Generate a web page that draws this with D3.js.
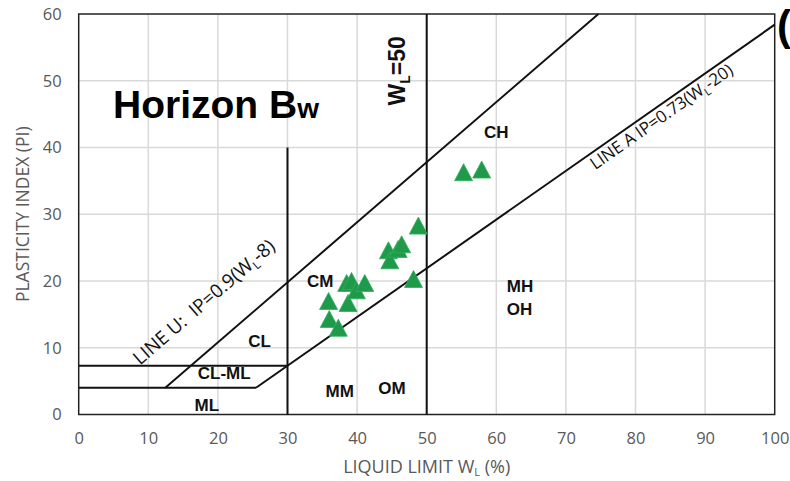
<!DOCTYPE html>
<html>
<head>
<meta charset="utf-8">
<script src="https://cdn.jsdelivr.net/npm/d3@7"></script>
<style>
  html, body { margin: 0; padding: 0; background: #fff; }
  svg { display: block; }
</style>
</head>
<body>
<svg id="chart" width="790" height="481"></svg>
<script>
// Liquid limit (WL, %) and plasticity index (PI) of the Bw horizon samples
const liquidLimit = [35.9, 36.0, 37.3, 38.7, 38.5, 39.2, 39.9, 41.1, 44.5, 44.7, 45.9, 46.4, 48.8, 48.1, 55.3, 57.9];
const plasticityIndex = [17.0, 14.3, 13.0, 16.7, 19.7, 20.0, 18.6, 19.7, 24.6, 23.1, 24.8, 25.5, 28.3, 20.3, 36.3, 36.7];

const xTicks = [0, 10, 20, 30, 40, 50, 60, 70, 80, 90, 100];
const yTicks = [0, 10, 20, 30, 40, 50, 60];

// Classification zone labels [WL, PI, text] (baseline centre)
const zoneLabels = [
  [60.0, 41.4, "CH"],
  [34.7, 19.1, "CM"],
  [26.0, 10.1, "CL"],
  [20.9, 5.3, "CL-ML"],
  [18.4, 0.5, "ML"],
  [37.5, 2.6, "MM"],
  [45.0, 3.1, "OM"]
];
const mhOhLabels = [["MH", 18.4], ["OH", 14.9]];

const svg = d3.select("#chart");
const x = d3.scaleLinear().domain([0, 100]).range([78.7, 774.7]);
const y = d3.scaleLinear().domain([0, 60]).range([414.5, 14]);

const tickFont = "'Open Sans', 'Liberation Sans', sans-serif";
const boldFont = "'Liberation Sans', Arial, sans-serif";

// Gridlines
const grid = svg.append("g");
grid.selectAll("line.gx").data(xTicks.slice(1, -1)).join("line")
  .attr("x1", d => x(d)).attr("x2", d => x(d))
  .attr("y1", y(0)).attr("y2", y(60))
  .attr("stroke", "#d9d9d9").attr("stroke-width", 1.5);
grid.selectAll("line.gy").data(yTicks.slice(1, -1)).join("line")
  .attr("x1", x(0)).attr("x2", x(100))
  .attr("y1", d => y(d)).attr("y2", d => y(d))
  .attr("stroke", "#d9d9d9").attr("stroke-width", 1.5);

// Axes (labels only)
const xAxis = svg.append("g")
  .attr("transform", `translate(0,${y(0)})`)
  .call(d3.axisBottom(x).tickValues(xTicks).tickSize(0).tickPadding(18));
const yAxis = svg.append("g")
  .attr("transform", `translate(${x(0)},0)`)
  .call(d3.axisLeft(y).tickValues(yTicks).tickSize(0).tickPadding(17));
[xAxis, yAxis].forEach(a => {
  a.select(".domain").remove();
  a.selectAll("text").attr("font-family", tickFont).attr("font-size", 16.5).attr("fill", "#595959");
});

// Plot frame
svg.append("rect")
  .attr("x", x(0)).attr("y", y(60))
  .attr("width", x(100) - x(0)).attr("height", y(0) - y(60))
  .attr("fill", "none").attr("stroke", "#222").attr("stroke-width", 1.5);

// Classification boundary lines
const lineU = w => 0.9 * (w - 8);
const lineA = w => 0.73 * (w - 20);
const paLimit = lineA(30);
const boundaries = [
  [[0, paLimit], [30, paLimit]],
  [[0, 4], [4 / 0.73 + 20, 4]],
  [[4 / 0.9 + 8, 4], [60 / 0.9 + 8, 60]],
  [[4 / 0.73 + 20, 4], [100, lineA(100)]],
  [[30, 0], [30, 40]],
  [[50, 0], [50, 60]]
];
const path = d3.line().x(d => x(d[0])).y(d => y(d[1]));
svg.append("g").selectAll("path").data(boundaries).join("path")
  .attr("d", path).attr("fill", "none").attr("stroke", "#111").attr("stroke-width", 2);

// Zone labels
svg.append("g").selectAll("text").data(zoneLabels).join("text")
  .attr("x", d => x(d[0])).attr("y", d => y(d[1]))
  .attr("text-anchor", "middle")
  .attr("font-family", boldFont).attr("font-weight", "bold").attr("font-size", 17)
  .attr("fill", "#111").text(d => d[2]);
svg.append("g").selectAll("text").data(mhOhLabels).join("text")
  .attr("x", x(61.5)).attr("y", d => y(d[1]))
  .attr("font-family", boldFont).attr("font-weight", "bold").attr("font-size", 17)
  .attr("fill", "#111").text(d => d[0]);

// Sloped line labels
function angleOf(f) {
  const dx = x(10) - x(0), dy = y(f(30)) - y(f(20));
  return Math.atan2(dy, dx) * 180 / Math.PI;
}
function slopedLabel(w, pi, f, parts, size) {
  const t = svg.append("text")
    .attr("transform", `translate(${x(w)},${y(pi)}) rotate(${angleOf(f)})`)
    .attr("font-family", tickFont).attr("font-size", size).attr("fill", "#111");
  parts.forEach(p => {
    const s = t.append("tspan").text(p[0]);
    if (p[1]) s.attr("font-size", size * 0.62).attr("dy", 4);
    if (p[2]) s.attr("dy", -4);
  });
}
slopedLabel(8.8, 7.3, lineU, [["LINE U:\u00a0\u00a0IP=0.9(W"], ["L", true], ["-8)", false, true]], 19);
slopedLabel(74.2, 36.6, lineA, [["LINE A IP=0.73(W"], ["L", true], ["-20)", false, true]], 17);

// WL = 50 label
const wl = svg.append("text")
  .attr("transform", `translate(${x(46.9)},${y(46.3)}) rotate(-90)`)
  .attr("font-family", boldFont).attr("font-weight", "bold").attr("font-size", 23).attr("fill", "#111");
wl.append("tspan").text("W");
wl.append("tspan").text("L").attr("font-size", 14).attr("dy", 5);
wl.append("tspan").text("=50").attr("dy", -5);

// Data markers (triangles)
const pts = liquidLimit.map((w, i) => [w, plasticityIndex[i]]);
const tw = 18, th = 17;
svg.append("g").selectAll("path").data(pts).join("path")
  .attr("d", d => {
    const cx = x(d[0]), cy = y(d[1]);
    return `M${cx},${cy - th / 2}L${cx + tw / 2},${cy + th / 2}L${cx - tw / 2},${cy + th / 2}Z`;
  })
  .attr("fill", "#1f9a4a").attr("stroke", "#2fae5c").attr("stroke-width", 0.8);

// Title
const title = svg.append("text")
  .attr("x", 113).attr("y", 118)
  .attr("font-family", boldFont).attr("font-weight", "bold").attr("font-size", 39).attr("fill", "#000");
title.append("tspan").text("Horizon B");
title.append("tspan").text("w").attr("font-size", 28);

// Panel letter at the right edge
svg.append("text").attr("x", 777).attr("y", 40)
  .attr("font-family", boldFont).attr("font-weight", "bold").attr("font-size", 42).attr("fill", "#000")
  .text("(");

// Axis titles
const xt = svg.append("text")
  .attr("x", (x(0) + x(100)) / 2).attr("y", 473).attr("text-anchor", "middle")
  .attr("font-family", tickFont).attr("font-size", 18).attr("fill", "#595959");
xt.append("tspan").text("LIQUID LIMIT W");
xt.append("tspan").text("L").attr("font-size", 11).attr("dy", 3);
xt.append("tspan").text(" (%)").attr("dy", -3);

svg.append("text")
  .attr("transform", `translate(29,${(y(0) + y(60)) / 2}) rotate(-90)`)
  .attr("text-anchor", "middle")
  .attr("font-family", tickFont).attr("font-size", 17.5).attr("fill", "#595959")
  .text("PLASTICITY INDEX (PI)");
</script>
</body>
</html>
